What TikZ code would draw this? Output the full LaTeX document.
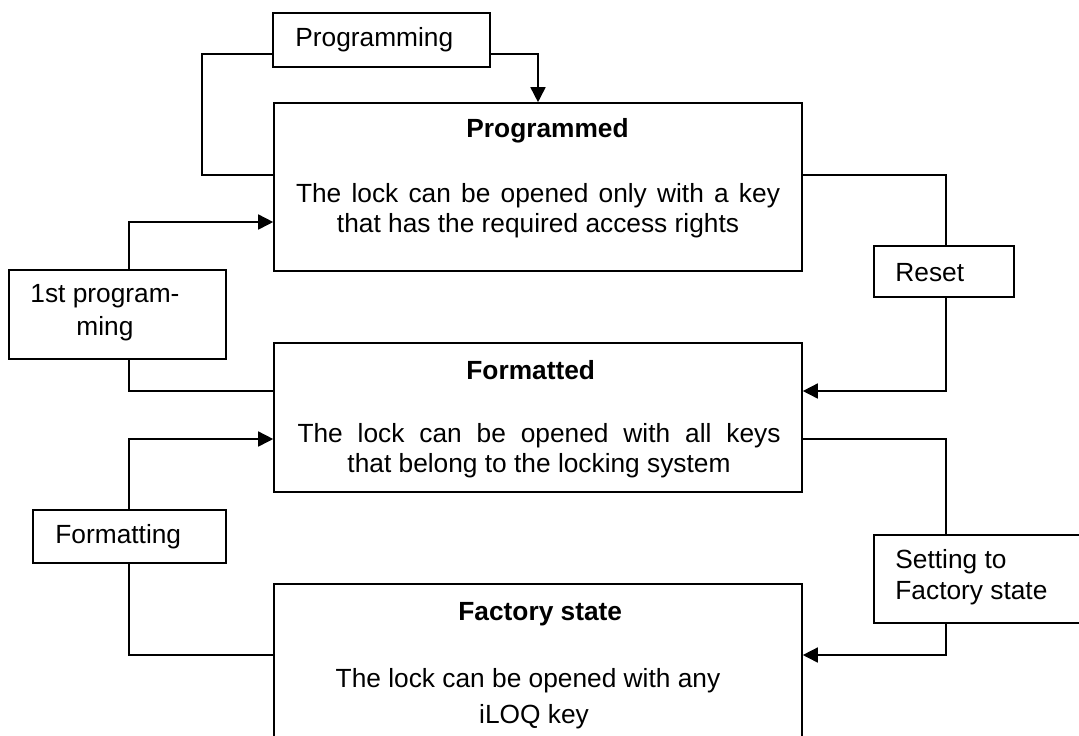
\documentclass[tikz,border=0pt]{standalone}
\usepackage{fontspec}
\setmainfont{Liberation Sans}
\usetikzlibrary{arrows.meta,fit}
\begin{document}
\begin{tikzpicture}[x=0.5pt,y=-0.5pt,
  box/.style={draw,line width=0.8pt,inner sep=0pt,rectangle},
  txt/.style={inner sep=0pt,font=\fontsize{13.15}{15}\selectfont},
  ttl/.style={inner sep=0pt,anchor=west,font=\fontsize{13.15}{15}\selectfont\bfseries},
  conn/.style={line width=0.8pt},
  arr/.style={line width=0.8pt,-{Triangle[length=7.5pt,width=7.5pt]}}]
\useasboundingbox (0,0) rectangle (1079,735);
\clip (0,0) rectangle (1079,735);
% boxes
\node[box,fit={(273,13) (490,67)}] (proglbl) {};
\node[box,fit={(274,103) (802,271)}] (prog) {};
\node[box,fit={(274,343) (802,492)}] (form) {};
\node[box,fit={(274,584) (802,770)}] (fact) {};
\node[box,fit={(9,270) (226,359)}] (first) {};
\node[box,fit={(874,246) (1014,297)}] (reset) {};
\node[box,fit={(33,510) (226,563)}] (fmt) {};
\node[box,fit={(874,535) (1090,623)}] (setting) {};
% texts
\node[txt,anchor=west] (tproglbl) at (295,40) {Programming};
\node[ttl] (tprog) at (466,131) {Programmed};
\node[txt,align=center] (tprogb) at (538,211) {\makebox[242pt][s]{The lock can be opened only with a key}\\that has the required access rights};
\node[ttl] (tform) at (466,370) {Formatted};
\node[txt,align=center] (tformb) at (539,451) {\makebox[241.5pt][s]{The lock can be opened with all keys}\\that belong to the locking system};
\node[ttl] (tfact) at (458,614) {Factory state};
\node[txt,align=center,font=\fontsize{13.15}{18}\selectfont] (tfactb) at (528,699) {The lock can be opened with any\\\hspace*{6pt}iLOQ key};
\node[txt,align=center,font=\fontsize{13.15}{16.5}\selectfont] (tfirst) at (105,313) {1st program-\\ming};
\node[txt,anchor=west] (treset) at (895,273) {Reset};
\node[txt,anchor=west] (tfmt) at (55,537) {Formatting};
\node[txt,anchor=west,align=left,font=\fontsize{13.15}{15.5}\selectfont] (tsetting) at (895,577) {Setting to\\Factory state};
% connectors
\draw[conn] (proglbl.west |- 0,54) -| (202,175) -- (prog.west |- 0,175);
\draw[arr] (proglbl.east |- 0,54) -| (prog.north);
\draw[conn] (prog.east |- 0,175) -| (946,0 |- reset.north);
\draw[arr] (946,0 |- reset.south) |- (form.east |- 0,391);
\draw[conn] (form.west |- 0,391) -| (129,0 |- first.south);
\draw[arr] (129,0 |- first.north) |- (prog.west |- 0,222);
\draw[conn] (form.east |- 0,439) -| (946,0 |- setting.north);
\draw[arr] (946,0 |- setting.south) |- (fact.east |- 0,655);
\draw[conn] (fact.west |- 0,655) -| (129,0 |- fmt.south);
\draw[arr] (129,0 |- fmt.north) |- (form.west |- 0,439);
\end{tikzpicture}
\end{document}
